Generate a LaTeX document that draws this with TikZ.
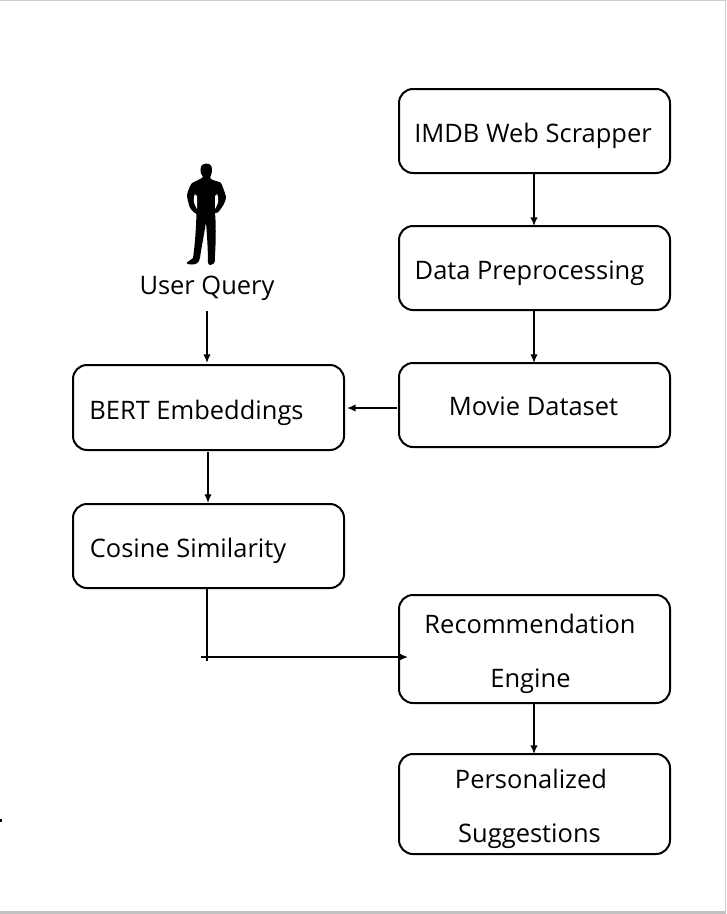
\documentclass[tikz,border=0pt]{standalone}
\usepackage{fontspec}
\setmainfont{Open Sans}
\usetikzlibrary{arrows.meta}
\tikzset{
  x=0.75pt,y=-0.75pt,
  box/.style={draw=black,line width=1.5pt,rounded corners=10.5pt,inner sep=0pt,fill=white},
  lab/.style={inner sep=0pt,font=\fontsize{19.1}{22}\selectfont,anchor=base},
  flow/.style={draw=black,line width=1.1pt,-{Latex[length=6.5pt,width=5.5pt]}},
  plain/.style={draw=black,line width=1.1pt}
}
\begin{document}
\begin{tikzpicture}
\useasboundingbox (0,0) rectangle (726,914);
\fill[white] (0,0) rectangle (726,914);
\fill[black!20] (0,0) rectangle (726,1);
\fill[black!20] (725,0) rectangle (726,914);
\fill[black!24] (0,911) rectangle (726,914);
\fill[black] (0,819) rectangle (2,822);
% boxes
\draw[box] (399,89) rectangle (670,173);
\draw[box] (399,226) rectangle (670,310);
\draw[box] (399,363) rectangle (670,447);
\draw[box] (73,365) rectangle (344,450);
\draw[box] (73,504) rectangle (344,588);
\draw[box] (399,595) rectangle (670,703);
\draw[box] (399,754) rectangle (670,854);
% anchors for connectors
\coordinate (imdbS) at (534,173);
\coordinate (dataN) at (534,226);
\coordinate (dataS) at (534,310);
\coordinate (movieN) at (534,363);
\coordinate (movieW) at (397,408);
\coordinate (bertE) at (347,408);
\coordinate (userS) at (207,311);
\coordinate (bertN) at (207,363);
\coordinate (bertS) at (208,452);
\coordinate (cosN) at (208,503);
\coordinate (cosS) at (207,588);
\coordinate (tickB) at (207,661);
\coordinate (tickL) at (201,657);
\coordinate (recW) at (408,657);
\coordinate (recS) at (534,703);
\coordinate (persN) at (534,754);
\draw[flow] (imdbS) -- (dataN);
\draw[flow] (dataS) -- (movieN);
\draw[flow] (movieW) -- (bertE);
\draw[flow] (userS) -- (bertN);
\draw[flow] (bertS) -- (cosN);
\draw[plain] (cosS) -- (tickB);
\draw[flow] (tickL) -- (recW);
\draw[flow] (recS) -- (persN);
% labels
\node[lab] (t1) at (533,142) {IMDB Web Scrapper};
\node[lab] (t2) at (529.5,279) {Data Preprocessing};
\node[lab] (t3) at (533.5,415) {Movie Dataset};
\node[lab] (t4) at (196.5,419) {BERT Embeddings};
\node[lab] (t5) at (188,557) {Cosine Similarity};
\node[lab] (t6) at (530,633) {Recommendation};
\node[lab] (t7) at (530.5,687) {Engine};
\node[lab] (t8) at (531,788) {Personalized};
\node[lab] (t9) at (529.5,842) {Suggestions};
\node[lab] (t10) at (207,294) {User Query};
% person silhouette
\fill[black]
  (206,163.5) .. controls (211,163.5) and (212.5,167) .. (212,171)
  .. controls (211.5,175) and (210,177) .. (210,178)
  .. controls (212,181) and (219,181) .. (221,183)
  .. controls (223,187) and (225,193) .. (226,197)
  .. controls (226,202) and (222,207) .. (220,210)
  .. controls (219,213) and (216,213) .. (215,213)
  .. controls (216,222) and (216,240) .. (215,255)
  .. controls (215,260) and (215,263) .. (213,264)
  .. controls (210,265.5) and (208,265) .. (208,263)
  .. controls (208,250) and (207,235) .. (206,222)
  .. controls (204,235) and (201,250) .. (200,258)
  .. controls (199,263) and (196,264.5) .. (192,264.5)
  .. controls (189,264.5) and (186,264) .. (187,262.5)
  .. controls (190,260) and (192,259) .. (193,258)
  .. controls (195,245) and (196,228) .. (196.5,214)
  .. controls (193,212) and (190,209) .. (189,205)
  .. controls (188,201) and (187,197) .. (187,195)
  .. controls (188,190) and (190,186) .. (192,183)
  .. controls (196,181) and (201,179) .. (203,177)
  .. controls (201,174) and (200,172) .. (200.5,169)
  .. controls (201,165) and (203,163.5) .. (206,163.5) -- cycle;
\fill[white] (195,194) .. controls (193,198) and (193,203) .. (197,209) -- (197,196) -- cycle;
\fill[white] (217,194) .. controls (219,198) and (219,203) .. (215,209) -- (215,196) -- cycle;
\end{tikzpicture}
\end{document}
